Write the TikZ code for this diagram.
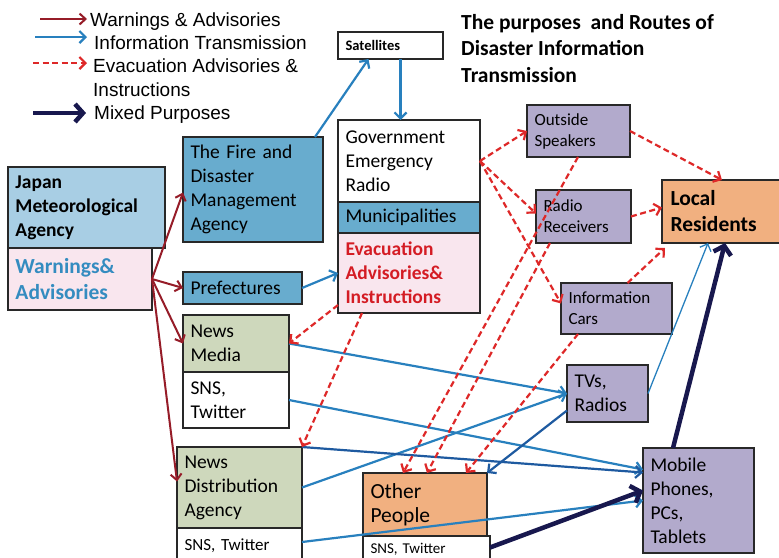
\documentclass[tikz,border=0pt]{standalone}
\usepackage{fontspec}
\setmainfont{Carlito}
\newfontfamily\legfont{Liberation Sans}
\usetikzlibrary{arrows.meta}
\definecolor{lblue}{RGB}{168,206,228}
\definecolor{mblue}{RGB}{104,172,206}
\definecolor{pinkf}{RGB}{249,230,238}
\definecolor{greenf}{RGB}{206,216,188}
\definecolor{purpf}{RGB}{178,170,204}
\definecolor{orangef}{RGB}{241,176,128}
\definecolor{wred}{RGB}{150,28,40}
\definecolor{iblue}{RGB}{40,128,190}
\definecolor{dblue}{RGB}{30,90,160}
\definecolor{ered}{RGB}{222,40,40}
\definecolor{navyc}{RGB}{24,24,78}
\definecolor{tblue}{RGB}{52,140,192}
\definecolor{tred}{RGB}{212,28,36}
\definecolor{bord}{RGB}{40,40,40}
\frenchspacing
\begin{document}
\begin{tikzpicture}[x=1pt,y=-1pt,
  bx/.style={draw=bord, line width=1.4pt, anchor=north west, inner xsep=7.5pt, inner ysep=0pt, align=left, outer sep=0pt},
  fA/.style={font=\fontsize{19.5}{24}\selectfont},
  fB/.style={font=\fontsize{17}{21}\selectfont},
  lg/.style={font=\legfont\fontsize{19}{23.3}\selectfont, anchor=base west, inner sep=0pt},
  wa/.style={draw=wred, line width=2pt, -{Straight Barb[length=6pt,width=11pt]}},
  ia/.style={draw=iblue, line width=2.2pt, -{Straight Barb[length=6pt,width=12pt]}},
  ea/.style={draw=ered, line width=2.2pt, dash pattern=on 6pt off 3.5pt, -{Straight Barb[length=6pt,width=12pt]}},
  ma/.style={draw=navyc, line width=4.5pt, -{Straight Barb[length=8pt,width=18pt]}}
]
\fill[white] (0,0) rectangle (779,557);
\useasboundingbox (0,0) rectangle (779,557);

% legend
\coordinate (l1a) at (40,19);  \coordinate (l1b) at (87,19);
\coordinate (l2a) at (35,37);  \coordinate (l2b) at (87,37);
\coordinate (l3a) at (33,63);  \coordinate (l3b) at (87,63);
\coordinate (l4a) at (33,113); \coordinate (l4b) at (86,113);
\draw[wa] (l1a) -- (l1b);
\draw[ia] (l2a) -- (l2b);
\draw[ea] (l3a) -- (l3b);
\draw[ma] (l4a) -- (l4b);
\node[lg] (lgw) at (90,26) {Warnings \& Advisories};
\node[lg] (lgi) at (94,49) {Information Transmission};
\node[lg, align=left] (lge) at (93,96) {Evacuation Advisories \&\\Instructions};
\node[lg] (lgm) at (94,119) {Mixed Purposes};

% title
\node[anchor=north west, inner sep=0pt, align=left, font=\bfseries\fontsize{21.5}{26.5}\selectfont] (title) at (461,14) {The purposes\ \ and Routes of\\Disaster Information\\Transmission};

% boxes
\node[bx, fill=white, minimum width=105pt, minimum height=27pt, text width=90pt, font=\bfseries\fontsize{14.5}{17}\selectfont] (sat) at (338,32) {Satellites};
\node[bx, fA, fill=white, minimum width=142pt, minimum height=82pt, text width=127pt] (gov) at (338,120) {Government\\Emergency\\Radio};
\node[bx, fA, fill=mblue, minimum width=142pt, minimum height=31pt, text width=127pt] (muni) at (338,202) {Municipalities};
\node[bx, fill=pinkf, minimum width=142pt, minimum height=80pt, text width=127pt, font=\bfseries\fontsize{19.5}{24}\selectfont, text=tred] (evac) at (338,233) {Evacuation\\Advisories\&\\Instructions};
\node[bx, fA, fill=mblue, minimum width=140pt, minimum height=105pt, text width=125pt] (fire) at (183,137) {The Fire and\\Disaster\\Management\\Agency};
\node[bx, fill=lblue, minimum width=157pt, minimum height=81pt, text width=142pt, font=\bfseries\fontsize{19.5}{24}\selectfont] (jma) at (8,167) {Japan\\Meteorological\\Agency};
\node[bx, fill=pinkf, minimum width=144pt, minimum height=62pt, text width=129pt, font=\bfseries\fontsize{21.5}{26}\selectfont, text=tblue] (warn) at (8,248) {Warnings\&\\Advisories};
\node[bx, fA, fill=mblue, minimum width=119pt, minimum height=32pt, text width=104pt] (pref) at (183,272) {Prefectures};
\node[bx, fA, fill=greenf, minimum width=106pt, minimum height=57pt, text width=91pt] (news) at (183,315) {News\\Media};
\node[bx, fA, fill=white, minimum width=106pt, minimum height=56pt, text width=91pt] (sns1) at (183,372) {SNS,\\Twitter};
\node[bx, fA, fill=greenf, minimum width=125pt, minimum height=81pt, text width=110pt] (nda) at (177,447) {News\\Distribution\\Agency};
\node[bx, fill=white, minimum width=125pt, minimum height=36pt, text width=110pt, font=\fontsize{17}{20}\selectfont] (sns2) at (177,528) {SNS, Twitter};
\node[bx, fill=orangef, minimum width=124pt, minimum height=63pt, text width=109pt, font=\fontsize{21.5}{24}\selectfont] (other) at (363,473) {Other\\People};
\node[bx, fill=white, minimum width=127pt, minimum height=27pt, text width=112pt, font=\fontsize{15}{18}\selectfont] (sns3) at (363,536) {SNS, Twitter};
\node[bx, fA, fill=purpf, minimum width=81pt, minimum height=57pt, text width=66pt] (tv) at (567,365) {TVs,\\Radios};
\node[bx, fA, fill=purpf, minimum width=111pt, minimum height=105pt, text width=96pt] (mob) at (643,448) {Mobile\\Phones,\\PCs,\\Tablets};
\node[bx, fB, fill=purpf, minimum width=103pt, minimum height=52pt, text width=88pt] (out) at (527,105) {Outside\\Speakers};
\node[bx, fB, fill=purpf, minimum width=95pt, minimum height=53pt, text width=80pt] (rr) at (536,190) {Radio\\Receivers};
\node[bx, fB, fill=purpf, minimum width=111pt, minimum height=51pt, text width=96pt] (cars) at (561,283) {Information\\Cars};
\node[bx, fill=orangef, minimum width=118pt, minimum height=63pt, text width=101pt, inner xsep=8.5pt, font=\bfseries\fontsize{21.5}{26}\selectfont] (local) at (662,180) {Local\\Residents};

% warnings & advisories
\draw[wa] (warn.east) -- ([yshift=-3pt]fire.west);
\draw[wa] (warn.east) -- (pref.west);
\draw[wa] (warn.east) -- (news.west);
\draw[wa] (warn.east) -- ([yshift=6pt]nda.west);

% information transmission
\draw[ia] ([xshift=-8pt]fire.north east) -- ([xshift=-22pt]sat.south);
\draw[ia] ([xshift=10pt]sat.south) -- ([xshift=10pt]sat.south |- gov.north);
\draw[ia] (pref.east) -- (evac.west);
\draw[ia] (news.east) -- (tv.west);
\draw[ia] (nda.east) -- (tv.west);
\draw[ia] (sns1.east) -- ([yshift=31pt]mob.west);
\draw[ia, draw=dblue] (nda.north east) -- ([yshift=28pt]mob.west);
\draw[ia, draw=dblue] ([yshift=-17pt]tv.west) -- (other.north east);
\draw[ia, line width=1.3pt] (tv.east) -- ([xshift=46pt]local.south west);
\draw[ia] ([yshift=4pt]sns2.east) -- (mob.west);

% mixed purposes
\draw[ma] ([yshift=2pt]sns3.east) -- ([yshift=10pt]mob.west);
\draw[ma] ([xshift=30pt]mob.north west) -- ([xshift=63pt]local.south west);

% evacuation advisories & instructions
\draw[ea] (gov.east) -- (out.west);
\draw[ea] (gov.east) -- ([yshift=3pt]rr.west);
\draw[ea] (gov.east) -- ([yshift=5pt]cars.west);
\draw[ea] (out.east) -- ([xshift=60pt]local.north west);
\draw[ea] (rr.east) -- ([yshift=4pt]local.west);
\draw[ea] ([xshift=11pt]cars.north) -- ([xshift=3pt,yshift=-5pt]local.south west);
\draw[ea] ([yshift=8pt]evac.south west) -- (news.east);
\draw[ea] ([xshift=24pt]evac.south west) -- (nda.north east);
\draw[ea] ([xshift=51pt]out.south west) -- ([xshift=40pt]other.north west);
\draw[ea] ([xshift=14pt]rr.south west) -- ([xshift=64pt]other.north west);
\draw[ea] ([xshift=17pt]cars.south west) -- ([xshift=103pt]other.north west);
\end{tikzpicture}
\end{document}
